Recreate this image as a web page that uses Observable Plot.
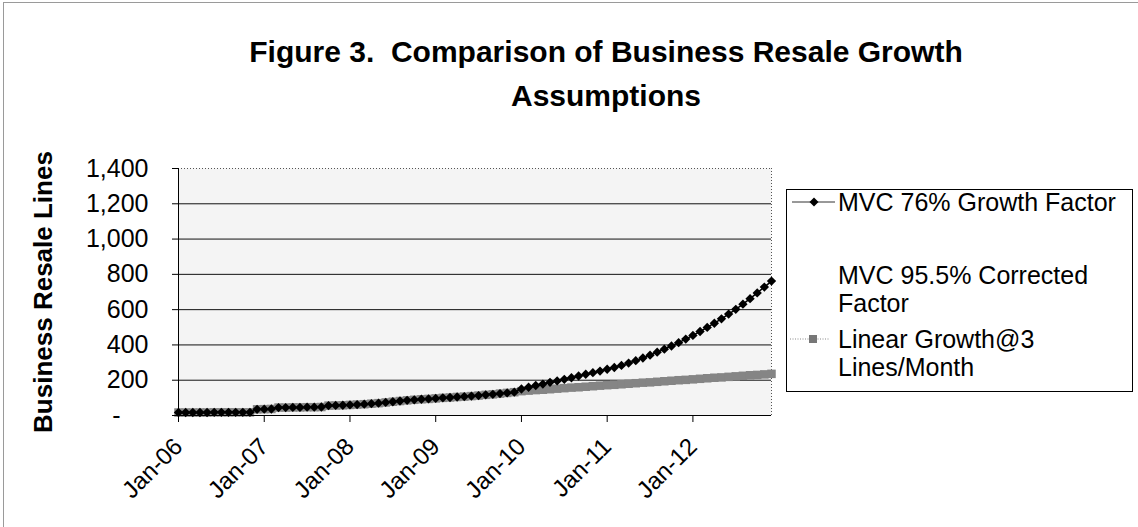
<!DOCTYPE html>
<html>
<head>
<meta charset="utf-8">
<script src="https://cdn.jsdelivr.net/npm/d3@7"></script>
<script src="https://cdn.jsdelivr.net/npm/@observablehq/plot@0.6"></script>
<style>
  body { margin: 0; background: #fff; }
  #chart {
    position: relative; width: 1138px; height: 527px; overflow: hidden; background: #fff;
    font-family: "Liberation Sans", Arial, sans-serif; color: #000;
  }
  #edge-top { position: absolute; left: 3px; top: 2px; width: 1135px; height: 0; border-top: 1px solid #9a9a9a; }
  #edge-left { position: absolute; left: 3px; top: 2px; width: 0; height: 525px; border-left: 1px solid #9a9a9a; }
  #title {
    box-sizing: border-box; height: 140px; padding: 30px 0 0 74px;
    text-align: center; font-weight: bold; font-size: 30px; line-height: 44px; white-space: pre;
  }
  #plot svg { display: block; overflow: visible; }
  #legend {
    position: absolute; left: 786px; top: 189px; width: 347px; height: 203px;
    box-sizing: border-box; border: 1px solid #000; background: #fff;
  }
  .entry { position: absolute; left: 51px; width: 290px; font-size: 25px; line-height: 28px; }
  .swatch { position: absolute; left: 0; width: 52px; height: 20px; }
</style>
</head>
<body>
<div id="chart">
  <div id="edge-top"></div>
  <div id="edge-left"></div>
  <div id="title"></div>
  <div id="plot"></div>
  <div id="legend"></div>
</div>
<script>
// Figure text
const titleLines = ["Figure 3.  Comparison of Business Resale Growth", "Assumptions"];
const yLabel = "Business Resale Lines";

// Monthly series, Jan-06 through Dec-12 (84 months)
const monthIndex = d3.range(84); // months since Jan-06

const mvc76Growth = [
  17, 17, 17, 17, 17, 18, 18, 18, 18, 18, 18, 35,        // 2006
  36, 37, 45, 45, 46, 46, 47, 47, 48, 56, 57, 58,        // 2007
  60, 62, 64, 67, 70, 74, 78, 82, 86, 89, 92, 94,        // 2008
  97, 100, 102, 105, 107, 110, 113, 117, 120, 124, 128, 132, // 2009
  150, 160, 170, 178, 188, 196, 205, 214, 224, 234, 243, 252, // 2010
  262, 272, 284, 297, 311, 326, 342, 359, 376, 394, 413, 433, // 2011
  454, 476, 499, 523, 548, 575, 602, 631, 662, 695, 728, 762  // 2012
];

const linearGrowth = [
  17, 17, 17, 17, 17, 18, 18, 18, 18, 18, 18, 35,        // 2006
  36, 37, 45, 45, 46, 46, 47, 47, 48, 56, 57, 58,        // 2007
  60, 62, 64, 67, 70, 74, 78, 82, 86, 89, 92, 94,        // 2008
  97, 100, 102, 105, 107, 110, 113, 117, 120, 124, 128, 132, // 2009
  138, 141, 144, 146, 149, 152, 155, 158, 160, 163, 166, 169, // 2010
  172, 174, 177, 180, 183, 186, 188, 191, 194, 197, 200, 202, // 2011
  205, 208, 211, 214, 216, 219, 222, 225, 228, 230, 233, 236  // 2012
];

// Axes
const yTicks = [0, 200, 400, 600, 800, 1000, 1200, 1400];
const xTickMonths = [0, 12, 24, 36, 48, 60, 72];
const xTickLabels = ["Jan-06", "Jan-07", "Jan-08", "Jan-09", "Jan-10", "Jan-11", "Jan-12"];

// Legend entries (the 95.5% series carries no visible symbol)
const legendNames = ["MVC 76% Growth Factor", "MVC 95.5% Corrected Factor", "Linear Growth@3 Lines/Month"];

const rows = monthIndex.map((m, i) => ({month: m, mvc76: mvc76Growth[i], linear: linearGrowth[i]}));

document.getElementById("title").textContent = titleLines.join("\n");

const svg = Plot.plot({
  width: 1138,
  height: 387,
  marginTop: 28,
  marginBottom: 112,
  marginLeft: 178,
  marginRight: 367,
  style: {fontFamily: "'Liberation Sans', Arial, sans-serif", fontSize: "25px", color: "#000", background: "transparent", overflow: "visible"},
  x: {domain: [0, 83]},
  y: {domain: [0, 1400]},
  marks: [
    Plot.frame({fill: "#f4f4f4", stroke: null}),
    Plot.ruleY(yTicks.filter(v => v > 0 && v < 1400), {stroke: "#111", strokeWidth: 1}),
    Plot.ruleY([1400], {stroke: "#555", strokeDasharray: "1,2"}),
    Plot.ruleX([83], {stroke: "#555", strokeDasharray: "1,2"}),
    // linear growth: gray line with squares
    Plot.line(rows, {x: "month", y: "linear", stroke: "#8a8a8a", strokeWidth: 2}),
    Plot.dot(rows, {x: "month", y: "linear", symbol: "square", r: 4.8, fill: "#858585"}),
    // 76% growth factor: black line with diamonds
    Plot.line(rows, {x: "month", y: "mvc76", stroke: "#000", strokeWidth: 1.5}),
    Plot.dot(rows, {x: "month", y: "mvc76", symbol: "diamond2", r: 4.2, fill: "#000"}),
    Plot.ruleX([0], {stroke: "#000"}),
    Plot.ruleY([0], {stroke: "#000"}),
    Plot.axisY(yTicks.filter(v => v > 0), {tickSize: 6, tickPadding: 24, tickFormat: d3.format(","), label: null}),
    Plot.axisY([0], {tickSize: 6, tickPadding: 52, tickFormat: () => "-", label: null}),
    Plot.axisX(xTickMonths, {
      tickSize: 7, tickPadding: 20, tickRotate: -45, fontSize: 24, label: null,
      tickFormat: d => xTickLabels[xTickMonths.indexOf(d)]
    }),
    Plot.text([yLabel], {
      text: d => d, frameAnchor: "left", textAnchor: "middle", rotate: -90,
      dx: -135, fontWeight: "bold", fontSize: 26
    })
  ]
});
document.getElementById("plot").appendChild(svg);

// Legend
const legend = document.getElementById("legend");
const entryTops = [-2, 71, 135];
const swatchDraw = [
  // line with diamond
  `<line x1="5" x2="48" y1="10" y2="10" stroke="#333" stroke-width="1"/>
   <path d="M27,5.5 L31.5,10 L27,14.5 L22.5,10 Z" fill="#000"/>`,
  ``,
  // dotted gray line with square
  `<line x1="3" x2="43" y1="10" y2="10" stroke="#888" stroke-width="1" stroke-dasharray="1,1.5"/>
   <rect x="22" y="6" width="8" height="8" fill="#777"/>`
];
legendNames.forEach((name, i) => {
  const e = document.createElement("div");
  e.className = "entry";
  e.style.top = entryTops[i] + "px";
  e.textContent = name;
  legend.appendChild(e);
  const s = document.createElementNS("http://www.w3.org/2000/svg", "svg");
  s.setAttribute("class", "swatch");
  s.setAttribute("width", "52");
  s.setAttribute("height", "20");
  s.style.top = (entryTops[i] + 4) + "px";
  s.innerHTML = swatchDraw[i];
  legend.appendChild(s);
});
</script>
</body>
</html>
